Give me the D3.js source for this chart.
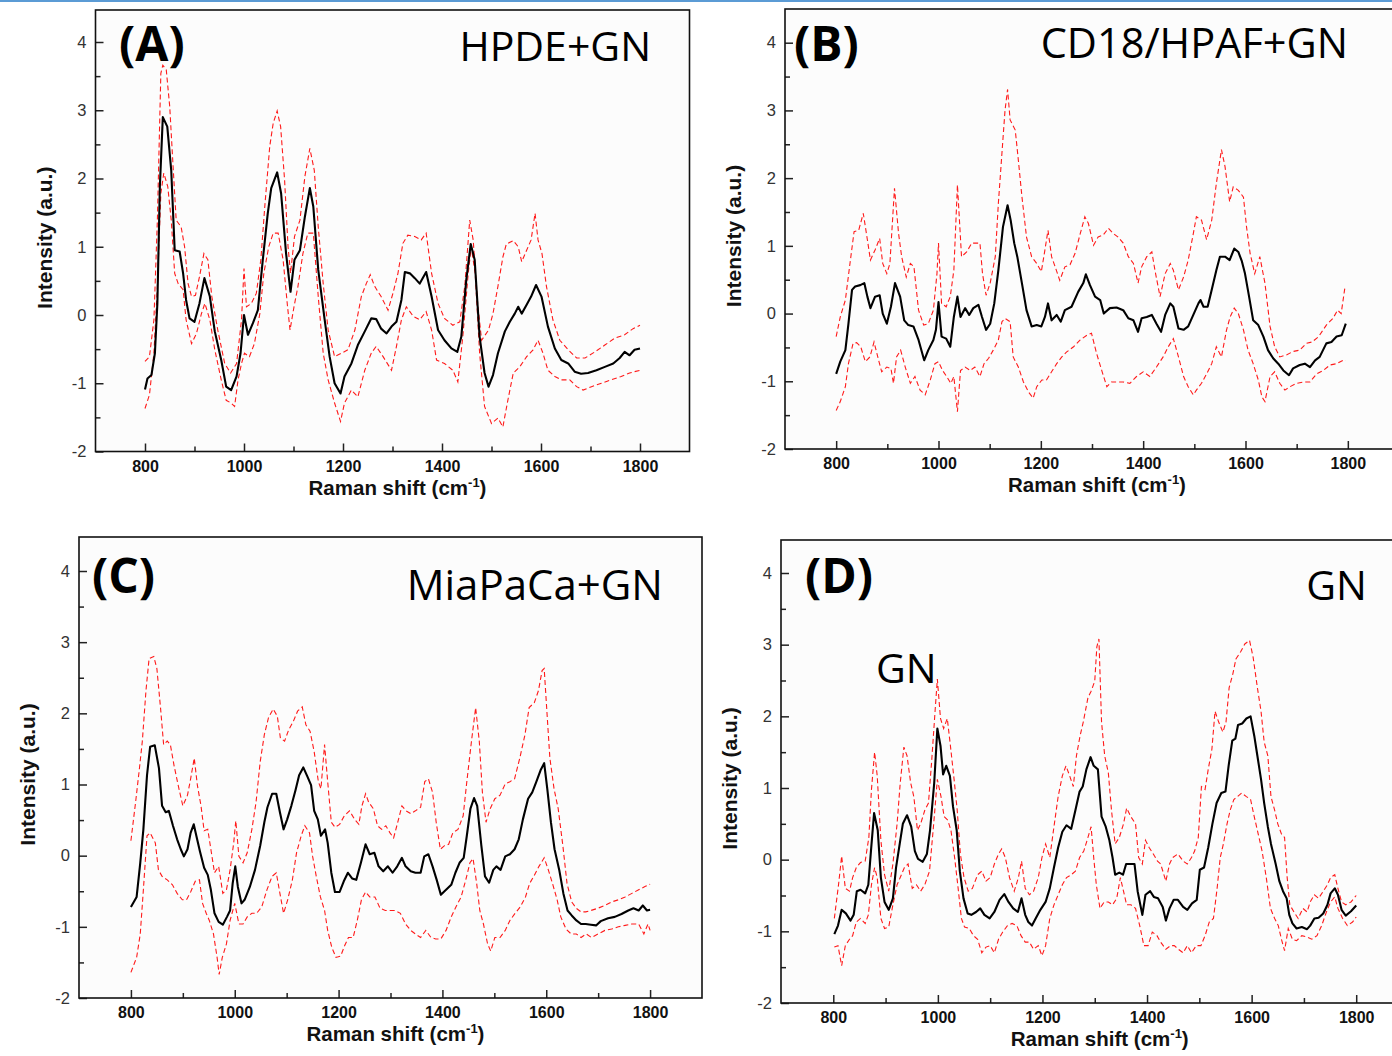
<!DOCTYPE html>
<html>
<head>
<meta charset="utf-8">
<script src="https://cdn.jsdelivr.net/npm/d3@7"></script>
<style>
  body { margin: 0; background: #fff; }
  svg { display: block; }
</style>
</head>
<body>
<svg id="chart" width="1392" height="1056"></svg>
<script>
// tick values shared by the four panels
const xTicks = [800, 1000, 1200, 1400, 1600, 1800];
const xMinor = [900, 1100, 1300, 1500, 1700];
const yTicks = [-2, -1, 0, 1, 2, 3, 4];
const yMinor = [-1.5, -0.5, 0.5, 1.5, 2.5, 3.5];

const panelTags = ['(A)', '(B)', '(C)', '(D)'];
const panelNames = ['HPDE+GN', 'CD18/HPAF+GN', 'MiaPaCa+GN', 'GN'];

// (A) HPDE+GN : mean spectrum and mean +/- sd
const aMean = [[800,-1.09],[805,-0.93],[813,-0.88],[820,-0.56],[825,0.17],[830,1.88],[836,2.9],[845,2.76],[853,2.12],[860,0.95],[870,0.93],[877,0.61],[883,0.22],[890,-0.05],[900,-0.1],[910,0.17],[920,0.54],[931,0.27],[941,-0.24],[954,-0.66],[964,-1.05],[974,-1.1],[985,-0.9],[993,-0.56],[1000,0],[1008,-0.29],[1018,-0.12],[1028,0.07],[1038,0.81],[1048,1.49],[1055,1.86],[1067,2.09],[1075,1.78],[1085,0.9],[1094,0.34],[1102,0.81],[1113,0.95],[1123,1.44],[1133,1.86],[1140,1.59],[1150,0.66],[1163,-0.07],[1173,-0.61],[1183,-1.0],[1195,-1.15],[1203,-0.9],[1217,-0.71],[1230,-0.44],[1244,-0.24],[1257,-0.05],[1267,-0.06],[1277,-0.2],[1288,-0.27],[1298,-0.17],[1308,-0.1],[1318,0.22],[1325,0.63],[1335,0.61],[1345,0.54],[1355,0.46],[1368,0.63],[1379,0.27],[1392,-0.22],[1405,-0.37],[1419,-0.49],[1431,-0.54],[1439,-0.32],[1449,0.51],[1458,1.04],[1466,0.81],[1476,-0.32],[1486,-0.85],[1494,-1.05],[1503,-0.88],[1513,-0.56],[1527,-0.24],[1537,-0.1],[1547,0.02],[1554,0.12],[1561,0.02],[1571,0.15],[1580,0.27],[1590,0.44],[1601,0.27],[1614,-0.17],[1628,-0.49],[1641,-0.66],[1655,-0.71],[1668,-0.83],[1681,-0.86],[1695,-0.85],[1712,-0.81],[1729,-0.76],[1746,-0.71],[1759,-0.63],[1769,-0.54],[1779,-0.59],[1789,-0.51],[1800,-0.49]];
const aUpper = [[800,-0.68],[809,-0.61],[818,-0.07],[825,1.39],[832,3.54],[836,3.66],[843,3.59],[850,3.05],[856,2.27],[863,1.39],[873,1.29],[880,1.0],[887,0.46],[894,0.27],[902,0.29],[910,0.56],[919,0.9],[927,0.81],[935,0.27],[947,-0.22],[961,-0.71],[973,-0.85],[985,-0.71],[995,-0.07],[1000,0.68],[1005,0.12],[1015,0.17],[1025,0.32],[1034,0.81],[1042,1.59],[1052,2.47],[1059,2.81],[1067,2.99],[1074,2.76],[1082,1.98],[1089,1.0],[1094,0.61],[1102,1.15],[1113,1.39],[1123,2.03],[1133,2.44],[1142,2.12],[1150,1.29],[1160,0.46],[1170,-0.22],[1183,-0.61],[1197,-0.56],[1210,-0.51],[1224,-0.22],[1237,0.27],[1247,0.46],[1255,0.59],[1264,0.42],[1277,0.27],[1291,0.07],[1301,0.32],[1311,0.61],[1321,1.05],[1331,1.17],[1345,1.15],[1358,1.1],[1368,1.2],[1379,0.61],[1392,0.17],[1405,-0.05],[1422,-0.15],[1436,-0.1],[1446,0.42],[1456,1.39],[1463,1.1],[1472,0.17],[1480,-0.37],[1494,-0.22],[1503,0.02],[1513,0.42],[1523,0.85],[1530,1.04],[1544,1.09],[1554,1.0],[1561,0.78],[1571,0.95],[1580,1.1],[1588,1.49],[1594,1.1],[1602,0.9],[1611,0.42],[1624,-0.07],[1638,-0.37],[1655,-0.51],[1672,-0.63],[1689,-0.63],[1709,-0.54],[1729,-0.44],[1749,-0.34],[1769,-0.29],[1786,-0.2],[1800,-0.15]];
const aLower = [[800,-1.37],[809,-1.17],[818,-0.56],[825,0.42],[832,1.78],[838,2.08],[846,1.88],[853,1.39],[860,0.61],[867,0.46],[877,0.37],[883,-0.07],[894,-0.42],[904,-0.27],[914,0.02],[921,0.17],[931,-0.07],[941,-0.51],[954,-0.95],[964,-1.25],[974,-1.29],[981,-1.34],[988,-0.95],[995,-0.71],[1001,-0.56],[1011,-0.61],[1021,-0.42],[1032,0.02],[1040,0.61],[1050,1.0],[1059,1.2],[1069,1.2],[1079,0.81],[1088,0.12],[1093,-0.22],[1101,0.12],[1109,0.42],[1119,0.9],[1129,1.2],[1140,1.2],[1150,0.27],[1160,-0.56],[1170,-0.95],[1183,-1.29],[1195,-1.56],[1203,-1.29],[1217,-1.1],[1230,-1.2],[1244,-0.81],[1257,-0.56],[1267,-0.46],[1281,-0.61],[1298,-0.81],[1308,-0.46],[1318,-0.07],[1328,0.12],[1342,-0.02],[1355,-0.07],[1368,0.05],[1379,-0.22],[1389,-0.66],[1405,-0.71],[1422,-0.81],[1432,-0.98],[1442,-0.32],[1453,0.61],[1459,1.0],[1467,0.61],[1476,-0.56],[1486,-1.34],[1500,-1.59],[1513,-1.51],[1523,-1.64],[1533,-1.25],[1544,-0.85],[1557,-0.76],[1571,-0.61],[1584,-0.51],[1594,-0.37],[1604,-0.56],[1614,-0.81],[1628,-0.9],[1641,-0.95],[1658,-0.95],[1672,-1.05],[1685,-1.1],[1702,-1.05],[1722,-1.0],[1742,-0.95],[1762,-0.9],[1779,-0.85],[1789,-0.83],[1800,-0.81]];

// (B) CD18/HPAF+GN
const bMean = [[800,-0.89],[808,-0.71],[818,-0.54],[824,-0.15],[831,0.35],[837,0.4],[847,0.42],[855,0.45],[861,0.25],[867,0.08],[876,0.25],[885,0.27],[891,0.0],[899,-0.15],[907,0.1],[915,0.45],[925,0.25],[933,-0.1],[941,-0.17],[951,-0.19],[961,-0.39],[972,-0.69],[980,-0.54],[990,-0.39],[995,-0.24],[1000,0.17],[1006,-0.34],[1015,-0.37],[1023,-0.49],[1030,-0.05],[1037,0.25],[1043,-0.05],[1052,0.08],[1060,-0.02],[1068,0.08],[1078,0.13],[1085,-0.05],[1093,-0.24],[1101,-0.15],[1109,0.15],[1117,0.64],[1126,1.28],[1135,1.6],[1141,1.38],[1148,1.04],[1154,0.84],[1163,0.45],[1172,0.05],[1182,-0.19],[1192,-0.17],[1201,-0.19],[1208,-0.05],[1214,0.15],[1221,-0.1],[1231,-0.02],[1239,-0.12],[1247,0.05],[1260,0.1],[1273,0.32],[1283,0.45],[1288,0.58],[1296,0.42],[1306,0.25],[1316,0.2],[1323,0.0],[1335,0.08],[1348,0.09],[1361,0.05],[1371,-0.07],[1381,-0.1],[1390,-0.27],[1397,-0.07],[1407,-0.05],[1417,-0.02],[1426,-0.15],[1435,-0.27],[1443,-0.02],[1453,0.15],[1459,0.1],[1469,-0.22],[1479,-0.24],[1488,-0.19],[1498,-0.02],[1508,0.15],[1512,0.2],[1518,0.1],[1526,0.1],[1534,0.35],[1543,0.64],[1550,0.84],[1560,0.84],[1569,0.79],[1578,0.96],[1586,0.91],[1593,0.77],[1599,0.59],[1607,0.25],[1615,-0.1],[1625,-0.17],[1635,-0.34],[1644,-0.54],[1654,-0.66],[1664,-0.74],[1674,-0.84],[1685,-0.91],[1693,-0.81],[1706,-0.76],[1716,-0.74],[1726,-0.79],[1736,-0.69],[1745,-0.64],[1758,-0.44],[1768,-0.42],[1778,-0.34],[1788,-0.32],[1796,-0.15]];
const bUpper = [[800,-0.34],[808,-0.05],[818,0.2],[827,0.74],[835,1.21],[844,1.23],[853,1.48],[861,1.09],[867,0.79],[876,0.94],[885,1.11],[891,0.74],[899,0.59],[905,0.74],[914,1.85],[922,1.18],[928,0.84],[937,0.54],[945,0.74],[952,0.69],[961,0.05],[971,-0.17],[980,-0.15],[990,0.05],[997,0.59],[1000,1.04],[1006,0.15],[1015,0.1],[1023,0.25],[1030,0.64],[1037,1.9],[1045,0.84],[1055,0.91],[1065,1.04],[1075,1.04],[1081,1.04],[1086,0.59],[1093,0.27],[1101,0.45],[1111,0.84],[1117,1.63],[1124,2.37],[1130,3.0],[1135,3.31],[1140,2.86],[1150,2.71],[1156,2.27],[1163,1.73],[1172,1.13],[1182,0.84],[1192,0.74],[1201,0.62],[1208,0.94],[1214,1.23],[1221,0.84],[1228,0.69],[1237,0.49],[1247,0.69],[1257,0.72],[1267,0.89],[1277,1.18],[1286,1.43],[1293,1.33],[1303,1.01],[1312,1.13],[1322,1.16],[1332,1.26],[1342,1.18],[1351,1.13],[1361,1.04],[1371,0.84],[1381,0.74],[1390,0.45],[1397,0.69],[1407,0.84],[1417,0.91],[1423,0.64],[1433,0.25],[1443,0.59],[1453,0.74],[1459,0.64],[1469,0.35],[1479,0.54],[1488,0.79],[1498,1.18],[1504,1.43],[1514,1.38],[1524,1.09],[1534,1.38],[1543,1.92],[1553,2.42],[1560,2.17],[1569,1.65],[1576,1.87],[1586,1.82],[1596,1.72],[1602,1.28],[1609,0.89],[1618,0.59],[1628,0.84],[1638,0.45],[1648,-0.19],[1657,-0.49],[1667,-0.64],[1680,-0.61],[1693,-0.56],[1706,-0.54],[1719,-0.44],[1730,-0.42],[1743,-0.34],[1758,-0.17],[1771,-0.07],[1780,0.05],[1787,0.0],[1794,0.37],[1796,0.35]];
const bLower = [[800,-1.43],[808,-1.3],[818,-1.08],[824,-0.74],[833,-0.44],[840,-0.43],[848,-0.49],[857,-0.71],[866,-0.64],[874,-0.42],[883,-0.69],[889,-0.86],[899,-0.79],[907,-0.81],[912,-1.03],[918,-0.64],[926,-0.54],[935,-0.79],[945,-1.03],[954,-0.93],[964,-1.13],[974,-1.2],[984,-0.98],[993,-0.74],[1000,-0.71],[1008,-0.84],[1016,-0.93],[1024,-1.03],[1030,-0.93],[1037,-1.45],[1043,-0.84],[1052,-0.79],[1062,-0.84],[1071,-0.79],[1081,-0.93],[1089,-0.74],[1098,-0.66],[1107,-0.54],[1117,-0.39],[1124,-0.12],[1130,-0.07],[1140,-0.12],[1146,-0.64],[1156,-0.79],[1166,-1.01],[1176,-1.16],[1185,-1.25],[1192,-1.08],[1202,-0.98],[1211,-0.98],[1221,-0.86],[1231,-0.74],[1241,-0.64],[1250,-0.57],[1264,-0.49],[1277,-0.39],[1290,-0.32],[1299,-0.29],[1309,-0.59],[1319,-0.84],[1329,-1.08],[1338,-1.01],[1348,-1.01],[1361,-1.01],[1374,-1.03],[1387,-0.93],[1400,-0.86],[1413,-0.93],[1426,-0.79],[1439,-0.64],[1449,-0.49],[1459,-0.37],[1469,-0.64],[1479,-0.93],[1488,-1.08],[1498,-1.2],[1504,-1.13],[1514,-1.03],[1524,-0.89],[1534,-0.74],[1543,-0.49],[1553,-0.64],[1563,-0.24],[1570,-0.05],[1578,0.08],[1586,0.0],[1596,-0.24],[1605,-0.54],[1615,-0.74],[1625,-0.98],[1632,-1.23],[1638,-1.3],[1648,-0.93],[1657,-0.86],[1667,-1.03],[1677,-1.13],[1687,-1.08],[1700,-1.03],[1713,-1.01],[1726,-1.01],[1739,-0.89],[1752,-0.84],[1765,-0.76],[1778,-0.74],[1791,-0.69],[1796,-0.69]];

// (C) MiaPaCa+GN
const cMean = [[800,-0.72],[811,-0.58],[818,-0.1],[824,0.37],[831,1.13],[837,1.53],[846,1.55],[854,1.23],[860,0.7],[867,0.61],[873,0.63],[881,0.42],[889,0.23],[896,0.09],[902,-0.01],[909,0.09],[915,0.32],[921,0.44],[926,0.28],[933,0.06],[941,-0.17],[948,-0.27],[954,-0.48],[961,-0.81],[969,-0.93],[977,-0.97],[985,-0.86],[991,-0.77],[996,-0.39],[1001,-0.15],[1006,-0.44],[1013,-0.67],[1019,-0.62],[1029,-0.44],[1039,-0.2],[1049,0.14],[1057,0.47],[1063,0.68],[1072,0.87],[1080,0.87],[1087,0.61],[1094,0.37],[1101,0.51],[1109,0.7],[1117,0.92],[1124,1.13],[1132,1.24],[1140,1.11],[1147,0.99],[1153,0.63],[1160,0.51],[1166,0.28],[1174,0.37],[1179,0.18],[1186,-0.24],[1193,-0.51],[1202,-0.51],[1210,-0.36],[1218,-0.24],[1226,-0.32],[1234,-0.34],[1243,-0.1],[1252,0.16],[1260,0.02],[1269,0.04],[1277,-0.15],[1286,-0.22],[1295,-0.15],[1304,-0.24],[1313,-0.15],[1322,-0.03],[1329,-0.15],[1339,-0.22],[1348,-0.24],[1358,-0.24],[1365,-0.01],[1373,0.02],[1381,-0.15],[1389,-0.34],[1397,-0.55],[1407,-0.48],[1417,-0.41],[1425,-0.24],[1433,-0.1],[1441,-0.03],[1447,0.28],[1454,0.66],[1461,0.81],[1467,0.7],[1475,0.14],[1482,-0.29],[1490,-0.38],[1498,-0.2],[1504,-0.15],[1512,-0.2],[1521,-0.01],[1530,0.02],[1539,0.09],[1547,0.23],[1555,0.51],[1565,0.8],[1573,0.89],[1581,1.04],[1589,1.2],[1596,1.3],[1602,0.94],[1609,0.47],[1616,0.09],[1625,-0.2],[1633,-0.53],[1641,-0.77],[1649,-0.84],[1658,-0.91],[1667,-0.96],[1676,-0.96],[1686,-0.97],[1696,-0.98],[1705,-0.92],[1719,-0.88],[1732,-0.86],[1745,-0.82],[1758,-0.77],[1768,-0.74],[1778,-0.77],[1786,-0.7],[1794,-0.77],[1800,-0.76]];
const cUpper = [[800,0.21],[809,0.75],[816,1.2],[822,1.61],[829,2.32],[835,2.77],[844,2.8],[850,2.63],[857,2.08],[863,1.56],[870,1.61],[876,1.56],[883,1.27],[891,0.99],[900,0.7],[909,0.85],[915,1.08],[922,1.37],[928,0.99],[935,0.7],[941,0.35],[948,0.37],[954,0.09],[961,-0.24],[969,-0.15],[977,-0.53],[984,-0.48],[991,-0.2],[998,0.18],[1002,0.49],[1008,-0.01],[1016,-0.1],[1024,0.04],[1033,0.37],[1041,0.75],[1049,1.32],[1057,1.7],[1065,1.94],[1074,2.06],[1082,1.96],[1088,1.65],[1096,1.61],[1104,1.77],[1113,1.89],[1121,2.03],[1130,2.09],[1137,1.84],[1145,1.75],[1153,1.46],[1161,1.04],[1166,0.94],[1173,1.56],[1179,1.04],[1186,0.47],[1193,0.4],[1202,0.44],[1211,0.56],[1221,0.63],[1231,0.51],[1239,0.44],[1245,0.7],[1252,0.87],[1258,0.75],[1267,0.66],[1275,0.42],[1283,0.37],[1291,0.42],[1299,0.32],[1306,0.25],[1314,0.47],[1322,0.7],[1330,0.63],[1339,0.59],[1348,0.63],[1358,0.68],[1366,1.04],[1373,1.08],[1381,0.89],[1388,0.47],[1396,0.09],[1404,0.14],[1412,0.16],[1420,0.32],[1430,0.37],[1440,0.56],[1447,1.04],[1456,1.61],[1464,2.08],[1471,1.61],[1477,0.89],[1484,0.47],[1492,0.66],[1501,0.8],[1511,0.85],[1521,1.01],[1530,1.04],[1539,1.08],[1549,1.37],[1559,1.7],[1567,2.08],[1577,2.15],[1585,2.32],[1592,2.6],[1596,2.63],[1602,1.94],[1607,1.37],[1615,0.94],[1623,0.66],[1632,0.14],[1640,-0.39],[1649,-0.65],[1658,-0.74],[1667,-0.79],[1676,-0.79],[1686,-0.77],[1699,-0.74],[1713,-0.7],[1726,-0.65],[1739,-0.62],[1752,-0.58],[1765,-0.53],[1778,-0.48],[1791,-0.43],[1800,-0.4]];
const cLower = [[800,-1.64],[811,-1.43],[818,-1.1],[824,-0.48],[831,0.28],[837,0.32],[847,0.18],[853,-0.2],[860,-0.29],[870,-0.34],[880,-0.41],[889,-0.53],[899,-0.62],[907,-0.62],[915,-0.51],[924,-0.36],[932,-0.34],[938,-0.67],[945,-0.81],[951,-0.91],[959,-1.1],[966,-1.43],[970,-1.67],[976,-1.43],[984,-1.24],[991,-0.91],[1000,-0.67],[1008,-0.96],[1016,-0.96],[1024,-0.86],[1033,-0.81],[1042,-0.81],[1052,-0.72],[1062,-0.48],[1072,-0.29],[1080,-0.24],[1087,-0.53],[1094,-0.81],[1102,-0.62],[1111,-0.34],[1119,0.04],[1128,0.28],[1135,0.42],[1144,0.32],[1150,-0.01],[1157,-0.29],[1165,-0.58],[1173,-0.77],[1179,-1.05],[1187,-1.29],[1195,-1.43],[1204,-1.41],[1212,-1.26],[1219,-1.15],[1228,-1.15],[1236,-0.91],[1244,-0.62],[1252,-0.51],[1260,-0.58],[1270,-0.58],[1280,-0.74],[1290,-0.77],[1299,-0.77],[1309,-0.77],[1319,-0.81],[1329,-0.96],[1339,-1.05],[1348,-1.1],[1358,-1.15],[1368,-1.05],[1378,-1.15],[1387,-1.17],[1397,-1.17],[1407,-1.05],[1417,-0.86],[1426,-0.72],[1436,-0.58],[1445,-0.34],[1453,-0.1],[1459,-0.04],[1466,-0.39],[1472,-0.77],[1479,-0.96],[1487,-1.24],[1493,-1.34],[1501,-1.15],[1511,-1.15],[1521,-1.05],[1530,-0.91],[1540,-0.81],[1550,-0.72],[1560,-0.58],[1568,-0.39],[1576,-0.29],[1586,-0.15],[1596,-0.03],[1604,-0.2],[1612,-0.39],[1621,-0.62],[1628,-0.86],[1638,-1.03],[1648,-1.1],[1658,-1.1],[1667,-1.15],[1677,-1.1],[1687,-1.15],[1700,-1.1],[1713,-1.05],[1726,-1.03],[1739,-1.0],[1752,-0.98],[1765,-0.96],[1778,-0.96],[1788,-1.1],[1796,-0.96],[1800,-1.05]];

// (D) GN
const dMean = [[802,-1.04],[809,-0.92],[816,-0.7],[824,-0.75],[833,-0.85],[839,-0.77],[845,-0.44],[852,-0.42],[861,-0.47],[867,-0.35],[872,0.12],[878,0.65],[885,0.41],[891,-0.25],[898,-0.59],[906,-0.7],[914,-0.54],[920,-0.11],[927,0.22],[933,0.5],[941,0.62],[949,0.46],[956,0.12],[962,0.01],[971,-0.03],[979,0.08],[985,0.41],[993,1.07],[999,1.83],[1005,1.59],[1010,1.19],[1016,1.31],[1023,1.17],[1029,0.74],[1036,0.41],[1042,-0.16],[1049,-0.54],[1057,-0.75],[1064,-0.77],[1073,-0.73],[1081,-0.68],[1089,-0.77],[1099,-0.82],[1108,-0.73],[1118,-0.56],[1127,-0.48],[1135,-0.59],[1144,-0.68],[1153,-0.73],[1160,-0.54],[1167,-0.77],[1173,-0.87],[1180,-0.92],[1187,-0.82],[1196,-0.7],[1206,-0.59],[1214,-0.4],[1222,-0.11],[1230,0.17],[1238,0.39],[1246,0.48],[1255,0.43],[1263,0.69],[1271,0.95],[1277,1.02],[1284,1.26],[1292,1.43],[1298,1.31],[1306,1.26],[1313,0.6],[1321,0.46],[1328,0.27],[1334,0.03],[1339,-0.21],[1347,-0.18],[1354,-0.21],[1360,-0.06],[1368,-0.06],[1376,-0.06],[1382,-0.44],[1391,-0.77],[1397,-0.49],[1406,-0.44],[1413,-0.52],[1421,-0.54],[1430,-0.66],[1436,-0.85],[1443,-0.68],[1451,-0.56],[1459,-0.56],[1469,-0.66],[1477,-0.7],[1486,-0.61],[1495,-0.56],[1501,-0.14],[1509,-0.11],[1517,0.17],[1525,0.5],[1533,0.79],[1542,0.93],[1550,0.95],[1556,1.31],[1563,1.66],[1569,1.69],[1574,1.88],[1582,1.9],[1590,1.97],[1598,2.0],[1605,1.73],[1611,1.45],[1618,1.12],[1624,0.79],[1631,0.46],[1637,0.22],[1646,-0.06],[1653,-0.3],[1660,-0.44],[1667,-0.54],[1672,-0.77],[1678,-0.89],[1686,-0.96],[1696,-0.94],[1706,-0.97],[1712,-0.92],[1720,-0.82],[1728,-0.81],[1737,-0.75],[1745,-0.63],[1751,-0.47],[1759,-0.4],[1765,-0.49],[1772,-0.7],[1780,-0.78],[1790,-0.72],[1800,-0.64]];
const dUpper = [[802,-0.82],[810,-0.35],[816,0.05],[823,-0.4],[831,-0.44],[837,-0.25],[844,-0.11],[852,-0.04],[861,-0.02],[868,0.31],[873,0.98],[879,1.5],[884,1.17],[891,0.27],[898,-0.21],[906,-0.44],[914,-0.06],[922,0.5],[928,1.07],[935,1.57],[941,1.45],[948,1.07],[954,0.88],[961,0.41],[967,0.5],[975,0.69],[982,0.79],[988,1.36],[995,2.11],[999,2.52],[1005,1.97],[1011,1.83],[1018,1.97],[1024,1.59],[1031,1.12],[1037,0.69],[1043,0.08],[1050,-0.25],[1058,-0.44],[1066,-0.4],[1076,-0.21],[1084,-0.16],[1092,-0.3],[1100,-0.25],[1108,-0.06],[1116,0.08],[1122,0.15],[1129,0.03],[1137,-0.25],[1146,-0.44],[1154,-0.25],[1160,-0.02],[1167,-0.4],[1175,-0.49],[1183,-0.44],[1192,-0.25],[1199,0.03],[1206,0.22],[1214,0.03],[1222,0.46],[1230,0.88],[1238,1.17],[1245,1.31],[1252,1.17],[1259,1.02],[1265,1.45],[1272,1.73],[1278,1.92],[1287,2.26],[1293,2.35],[1300,2.49],[1304,2.97],[1308,3.08],[1313,1.92],[1319,1.45],[1326,1.21],[1332,0.69],[1339,0.22],[1347,0.31],[1355,0.5],[1361,0.72],[1369,0.6],[1378,0.5],[1384,0.03],[1391,-0.06],[1397,0.27],[1404,0.17],[1412,0.08],[1420,-0.02],[1426,-0.06],[1436,-0.3],[1443,-0.06],[1449,0.03],[1459,0.08],[1469,-0.02],[1477,-0.06],[1485,0.03],[1491,0.12],[1498,0.31],[1504,1.02],[1511,0.98],[1517,1.26],[1524,1.54],[1530,2.07],[1537,1.92],[1545,1.78],[1551,1.92],[1557,2.4],[1564,2.59],[1570,2.8],[1579,2.9],[1587,3.01],[1596,3.06],[1603,2.82],[1611,2.4],[1618,2.07],[1624,1.64],[1631,1.45],[1637,0.88],[1644,0.69],[1650,0.5],[1657,0.36],[1663,0.31],[1668,-0.25],[1673,-0.63],[1681,-0.73],[1689,-0.82],[1698,-0.68],[1706,-0.73],[1712,-0.59],[1720,-0.49],[1728,-0.54],[1737,-0.44],[1745,-0.35],[1751,-0.25],[1759,-0.21],[1765,-0.4],[1772,-0.59],[1780,-0.63],[1790,-0.59],[1800,-0.5]];
const dLower = [[802,-1.22],[809,-1.2],[816,-1.48],[823,-1.2],[831,-1.11],[837,-1.06],[844,-0.87],[852,-0.82],[861,-0.89],[867,-0.77],[873,-0.35],[879,-0.11],[884,-0.25],[891,-0.82],[898,-0.96],[906,-0.94],[914,-0.63],[922,-0.35],[928,-0.25],[936,-0.11],[943,-0.06],[951,-0.4],[959,-0.35],[967,-0.44],[975,-0.35],[984,-0.16],[992,0.5],[999,1.12],[1006,0.88],[1012,0.6],[1019,0.55],[1025,0.41],[1032,0.03],[1038,-0.35],[1045,-0.82],[1051,-0.94],[1060,-0.96],[1068,-1.06],[1076,-1.11],[1084,-1.3],[1092,-1.22],[1100,-1.2],[1108,-1.3],[1116,-1.11],[1124,-1.01],[1133,-0.92],[1142,-0.89],[1151,-0.92],[1159,-1.06],[1167,-1.15],[1175,-1.15],[1183,-1.25],[1192,-1.2],[1199,-1.34],[1206,-1.2],[1214,-0.82],[1222,-0.63],[1230,-0.49],[1238,-0.35],[1246,-0.25],[1255,-0.21],[1263,-0.16],[1271,0.03],[1279,0.12],[1287,0.31],[1293,0.46],[1298,0.03],[1303,-0.35],[1310,-0.68],[1318,-0.59],[1326,-0.59],[1334,-0.63],[1342,-0.54],[1349,-0.25],[1355,-0.44],[1361,-0.63],[1369,-0.63],[1378,-0.68],[1386,-0.92],[1394,-1.2],[1402,-1.2],[1410,-1.01],[1419,-1.06],[1426,-1.15],[1436,-1.25],[1445,-1.2],[1452,-1.2],[1460,-1.25],[1469,-1.3],[1477,-1.2],[1485,-1.3],[1494,-1.2],[1503,-1.2],[1511,-1.06],[1519,-0.87],[1527,-0.82],[1534,-0.4],[1540,0.03],[1546,0.22],[1553,0.5],[1559,0.69],[1566,0.84],[1573,0.88],[1581,0.93],[1590,0.88],[1598,0.84],[1605,0.6],[1611,0.41],[1620,0.12],[1628,-0.25],[1636,-0.68],[1644,-0.82],[1651,-0.92],[1657,-1.11],[1663,-1.27],[1670,-0.96],[1678,-1.11],[1686,-1.13],[1696,-1.06],[1706,-1.08],[1715,-1.11],[1725,-1.06],[1734,-0.92],[1743,-0.73],[1751,-0.59],[1759,-0.52],[1765,-0.68],[1774,-0.82],[1783,-0.92],[1793,-0.87],[1800,-0.8]];

// page layout of each panel (pixels)
const frames = [
  { x0: 95.5, x1: 689.5, yb: 451.5, y4: 42,   top: 10,
    tag: [119, 61], name: [651, 61], nameSize: 41 },
  { x0: 785,  x1: 1399,  yb: 449,   y4: 42.7, top: 9,
    tag: [794, 61], name: [1348, 58], nameSize: 41.5 },
  { x0: 79,   x1: 702,   yb: 998,   y4: 571,  top: 537,
    tag: [92, 593], name: [663, 600], nameSize: 42 },
  { x0: 781,  x1: 1408.5, yb: 1003, y4: 573,  top: 540,
    tag: [805, 593], name: [1367, 600], nameSize: 41, extra: ['GN', 876, 683] }
];
const series = [
  [aMean, aUpper, aLower],
  [bMean, bUpper, bLower],
  [cMean, cUpper, cLower],
  [dMean, dUpper, dLower]
];

const svg = d3.select('#chart');
svg.append('rect').attr('x', 0).attr('y', 0).attr('width', 1392).attr('height', 2).attr('fill', '#5b9bd5');

const fmt = d => String(d);
const sans = 'Liberation Sans, Arial, sans-serif';

frames.forEach((f, i) => {
  const x = d3.scaleLinear().domain([700, 1900]).range([f.x0, f.x1]);
  const y = d3.scaleLinear().domain([-2, 4]).range([f.yb, f.y4]);
  const g = svg.append('g');

  g.append('rect')
    .attr('x', f.x0).attr('y', f.top)
    .attr('width', f.x1 - f.x0).attr('height', f.yb - f.top)
    .attr('fill', '#fcfcfc');

  // axes, ticks pointing into the plot
  const axL = g.append('g').attr('transform', `translate(${f.x0},0)`)
    .call(d3.axisLeft(y).tickValues(yTicks).tickFormat(fmt).tickSize(-8).tickSizeOuter(0).tickPadding(9));
  g.append('g').attr('transform', `translate(${f.x0},0)`)
    .call(d3.axisLeft(y).tickValues(yMinor).tickFormat('').tickSize(-5).tickSizeOuter(0));
  const axB = g.append('g').attr('transform', `translate(0,${f.yb})`)
    .call(d3.axisBottom(x).tickValues(xTicks).tickFormat(fmt).tickSize(-8).tickSizeOuter(0).tickPadding(9));
  g.append('g').attr('transform', `translate(0,${f.yb})`)
    .call(d3.axisBottom(x).tickValues(xMinor).tickFormat('').tickSize(-5).tickSizeOuter(0));

  g.selectAll('.domain').remove();
  g.selectAll('.tick line').attr('stroke', '#222').attr('stroke-width', 1.5);
  axL.selectAll('text').attr('font-family', sans)
    .attr('font-size', 16.5).attr('fill', '#333');
  axB.selectAll('text').attr('font-family', sans)
    .attr('font-size', 16).attr('font-weight', 'bold').attr('fill', '#111');

  // frame
  g.append('rect')
    .attr('x', f.x0).attr('y', f.top)
    .attr('width', f.x1 - f.x0).attr('height', f.yb - f.top)
    .attr('fill', 'none').attr('stroke', '#111').attr('stroke-width', 1.6);

  // spectra
  const line = d3.line().x(d => x(d[0])).y(d => y(d[1]));
  const [mean, upper, lower] = series[i];
  [upper, lower].forEach(s => {
    g.append('path').datum(s).attr('d', line)
      .attr('fill', 'none').attr('stroke', '#ff1a1a')
      .attr('stroke-width', 1.1).attr('stroke-dasharray', '5,3');
  });
  g.append('path').datum(mean).attr('d', line)
    .attr('fill', 'none').attr('stroke', '#000')
    .attr('stroke-width', 2.1).attr('stroke-linejoin', 'round');

  // axis titles
  const xt = g.append('text')
    .attr('x', (f.x0 + f.x1) / 2 + 5).attr('y', f.yb + 43)
    .attr('text-anchor', 'middle')
    .attr('font-family', sans)
    .attr('font-size', 20.5).attr('font-weight', 'bold').attr('fill', '#111');
  xt.append('tspan').text('Raman shift (cm');
  xt.append('tspan').attr('font-size', 13).attr('dy', -8).text('-1');
  xt.append('tspan').attr('dy', 8).text(')');

  g.append('text')
    .attr('transform', `translate(${f.x0 - 44},${(f.top + f.yb) / 2 + 7}) rotate(-90)`)
    .attr('text-anchor', 'middle')
    .attr('font-family', sans)
    .attr('font-size', 21).attr('font-weight', 'bold').attr('fill', '#111')
    .text('Intensity (a.u.)');

  // panel labels
  g.append('text')
    .attr('x', f.tag[0]).attr('y', f.tag[1])
    .attr('font-family', 'Open Sans, sans-serif')
    .attr('font-size', 48).attr('font-weight', 'bold').attr('fill', '#000')
    .text(panelTags[i]);
  g.append('text')
    .attr('x', f.name[0]).attr('y', f.name[1])
    .attr('text-anchor', 'end')
    .attr('font-family', 'Open Sans, sans-serif')
    .attr('font-size', f.nameSize).attr('fill', '#000')
    .text(panelNames[i]);
  if (f.extra) {
    g.append('text')
      .attr('x', f.extra[1]).attr('y', f.extra[2])
      .attr('font-family', 'Open Sans, sans-serif')
      .attr('font-size', 41).attr('fill', '#000')
      .text(f.extra[0]);
  }
});
</script>
</body>
</html>
